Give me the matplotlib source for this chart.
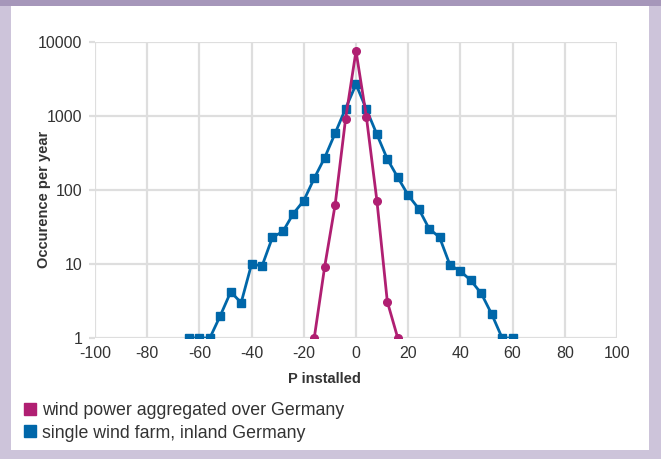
import matplotlib.pyplot as plt
from matplotlib.patches import Rectangle
from matplotlib.lines import Line2D

plt.rcParams["font.family"] = ["Liberation Sans", "DejaVu Sans"]
plt.rcParams["axes.unicode_minus"] = False

# data
x_single = [-64, -60, -56, -52, -48, -44, -40, -36, -32, -28, -24, -20, -16, -12, -8, -4,
            0, 4, 8, 12, 16, 20, 24, 28, 32, 36, 40, 44, 48, 52, 56, 60]
y_single = [1, 1, 1, 2, 4.2, 3, 10, 9.4, 23, 27.5, 48, 72, 144, 273, 584, 1260,
            2680, 1230, 565, 262, 148, 85, 56, 30, 23, 9.7, 8, 6, 4, 2.1, 1, 1]
x_agg = [-16, -12, -8, -4, 0, 4, 8, 12, 16]
y_agg = [1, 9.2, 63, 910, 7560, 960, 72, 3.1, 1]

xticks = [-100, -80, -60, -40, -20, 0, 20, 40, 60, 80, 100]
yticks = [1, 10, 100, 1000, 10000]
ytick_labels = ["1", "10", "100", "1000", "10000"]

magenta = "#b01f72"
blue = "#0067a9"
txt = "#333333"

fig = plt.figure(figsize=(6.61, 4.59), dpi=100)
fig.patch.set_facecolor("#cdc4da")
fig.patches.append(Rectangle((0, 1 - 6 / 459), 1, 6 / 459, transform=fig.transFigure,
                             facecolor="#a697ba", edgecolor="none", zorder=-2))
fig.patches.append(Rectangle((11 / 661, 9 / 459), 638 / 661, 444 / 459, transform=fig.transFigure,
                             facecolor="white", edgecolor="none", zorder=-2))

ax = fig.add_axes([95 / 661, 1 - 338 / 459, 522 / 661, 296 / 459])
ax.set_facecolor("none")
ax.plot(x_single, y_single, color=blue, lw=2, marker="s", markersize=5.5, zorder=3)
ax.plot(x_agg, y_agg, color=magenta, lw=2, marker="o", markersize=5.5, zorder=4)

ax.set_yscale("log")
ax.set_xlim(-100, 100)
ax.set_ylim(1, 10000)
ax.set_xticks(xticks)
ax.set_yticks(yticks)
ax.set_yticklabels(ytick_labels)
ax.minorticks_off()
ax.grid(True, color="#dedede", lw=1.6, zorder=0)
for s in ax.spines.values():
    s.set_visible(False)
ax.tick_params(axis="y", length=4, color="#dedede", width=1.6, labelsize=11.5, labelcolor=txt, pad=5)
ax.tick_params(axis="x", length=0, labelsize=11.5, labelcolor=txt, pad=6)

ax.set_xlabel("P installed", fontweight="bold", fontsize=10.5, color=txt)
ax.xaxis.set_label_coords(0.44, -0.115)
ax.set_ylabel("Occurence per year", fontweight="bold", fontsize=10.5, color=txt)
ax.yaxis.set_label_coords(-0.085, 0.47)

handles = [Line2D([], [], color=magenta, marker="s", linestyle="none", markersize=8),
           Line2D([], [], color=blue, marker="s", linestyle="none", markersize=8)]
fig.legend(handles, ["wind power aggregated over Germany", "single wind farm, inland Germany"],
           loc="upper left", bbox_to_anchor=(16 / 661, 1 - 393 / 459), frameon=False,
           fontsize=12.8, labelcolor=txt, handlelength=0.55, handletextpad=0.4,
           labelspacing=0.32, borderpad=0)

fig.savefig("out.png", dpi=100, facecolor=fig.get_facecolor())
